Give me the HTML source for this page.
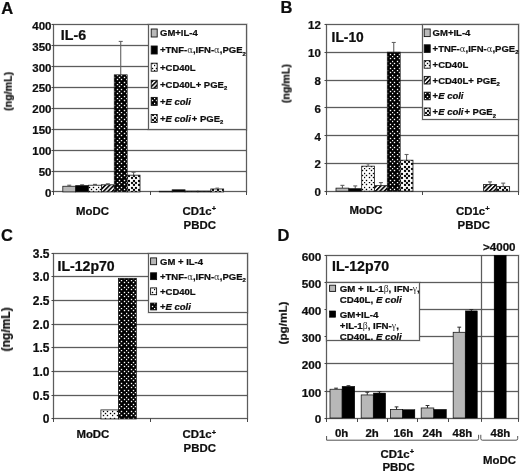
<!DOCTYPE html>
<html lang="en">
<head>
<meta charset="utf-8">
<title>Figure</title>
<style>
html,body{margin:0;padding:0;background:#fff;}
body{width:520px;height:472px;overflow:hidden;}
svg{display:block;}
svg text{font-family:"Liberation Sans",Arial,sans-serif;font-weight:bold;fill:#0c0c0c;stroke:#0c0c0c;stroke-width:0.22px;filter:url(#soft);}
</style>
</head>
<body>
<svg width="520" height="472" viewBox="0 0 520 472">
<defs>
<pattern id="pS" width="14" height="14" patternUnits="userSpaceOnUse"><rect width="14" height="14" fill="#fff"/><rect x="-0.18" y="-0.18" width="1.36" height="1.36" fill="#000"/><rect x="4.82" y="-0.18" width="1.36" height="1.36" fill="#000"/><rect x="8.82" y="-0.18" width="1.36" height="1.36" fill="#000"/><rect x="1.82" y="1.82" width="1.36" height="1.36" fill="#000"/><rect x="6.82" y="1.82" width="1.36" height="1.36" fill="#000"/><rect x="11.82" y="1.82" width="1.36" height="1.36" fill="#000"/><rect x="-0.18" y="4.82" width="1.36" height="1.36" fill="#000"/><rect x="4.82" y="4.82" width="1.36" height="1.36" fill="#000"/><rect x="8.82" y="4.82" width="1.36" height="1.36" fill="#000"/><rect x="1.82" y="6.82" width="1.36" height="1.36" fill="#000"/><rect x="6.82" y="6.82" width="1.36" height="1.36" fill="#000"/><rect x="11.82" y="6.82" width="1.36" height="1.36" fill="#000"/><rect x="-0.18" y="8.82" width="1.36" height="1.36" fill="#000"/><rect x="4.82" y="8.82" width="1.36" height="1.36" fill="#000"/><rect x="8.82" y="8.82" width="1.36" height="1.36" fill="#000"/><rect x="1.82" y="11.82" width="1.36" height="1.36" fill="#000"/><rect x="6.82" y="11.82" width="1.36" height="1.36" fill="#000"/><rect x="11.82" y="11.82" width="1.36" height="1.36" fill="#000"/></pattern>
<pattern id="pW" width="14" height="14" patternUnits="userSpaceOnUse"><rect width="14" height="14" fill="#000"/><rect x="-0.18" y="-0.18" width="1.36" height="1.36" fill="#fff"/><rect x="4.82" y="-0.18" width="1.36" height="1.36" fill="#fff"/><rect x="8.82" y="-0.18" width="1.36" height="1.36" fill="#fff"/><rect x="1.82" y="1.82" width="1.36" height="1.36" fill="#fff"/><rect x="6.82" y="1.82" width="1.36" height="1.36" fill="#fff"/><rect x="11.82" y="1.82" width="1.36" height="1.36" fill="#fff"/><rect x="-0.18" y="4.82" width="1.36" height="1.36" fill="#fff"/><rect x="4.82" y="4.82" width="1.36" height="1.36" fill="#fff"/><rect x="8.82" y="4.82" width="1.36" height="1.36" fill="#fff"/><rect x="1.82" y="6.82" width="1.36" height="1.36" fill="#fff"/><rect x="6.82" y="6.82" width="1.36" height="1.36" fill="#fff"/><rect x="11.82" y="6.82" width="1.36" height="1.36" fill="#fff"/><rect x="-0.18" y="8.82" width="1.36" height="1.36" fill="#fff"/><rect x="4.82" y="8.82" width="1.36" height="1.36" fill="#fff"/><rect x="8.82" y="8.82" width="1.36" height="1.36" fill="#fff"/><rect x="1.82" y="11.82" width="1.36" height="1.36" fill="#fff"/><rect x="6.82" y="11.82" width="1.36" height="1.36" fill="#fff"/><rect x="11.82" y="11.82" width="1.36" height="1.36" fill="#fff"/></pattern>
<pattern id="pB" width="14" height="14" patternUnits="userSpaceOnUse"><rect width="14" height="14" fill="#fff"/><circle cx="1" cy="1" r="1.16" fill="#000"/><circle cx="1" cy="15" r="1.16" fill="#000"/><circle cx="15" cy="1" r="1.16" fill="#000"/><circle cx="15" cy="15" r="1.16" fill="#000"/><circle cx="6" cy="1" r="1.16" fill="#000"/><circle cx="6" cy="15" r="1.16" fill="#000"/><circle cx="10" cy="1" r="1.16" fill="#000"/><circle cx="10" cy="15" r="1.16" fill="#000"/><circle cx="3" cy="3" r="1.16" fill="#000"/><circle cx="8" cy="3" r="1.16" fill="#000"/><circle cx="13" cy="3" r="1.16" fill="#000"/><circle cx="-1" cy="3" r="1.16" fill="#000"/><circle cx="1" cy="6" r="1.16" fill="#000"/><circle cx="15" cy="6" r="1.16" fill="#000"/><circle cx="6" cy="6" r="1.16" fill="#000"/><circle cx="10" cy="6" r="1.16" fill="#000"/><circle cx="3" cy="8" r="1.16" fill="#000"/><circle cx="8" cy="8" r="1.16" fill="#000"/><circle cx="13" cy="8" r="1.16" fill="#000"/><circle cx="-1" cy="8" r="1.16" fill="#000"/><circle cx="1" cy="10" r="1.16" fill="#000"/><circle cx="15" cy="10" r="1.16" fill="#000"/><circle cx="6" cy="10" r="1.16" fill="#000"/><circle cx="10" cy="10" r="1.16" fill="#000"/><circle cx="3" cy="13" r="1.16" fill="#000"/><circle cx="3" cy="-1" r="1.16" fill="#000"/><circle cx="8" cy="13" r="1.16" fill="#000"/><circle cx="8" cy="-1" r="1.16" fill="#000"/><circle cx="13" cy="13" r="1.16" fill="#000"/><circle cx="13" cy="-1" r="1.16" fill="#000"/><circle cx="-1" cy="13" r="1.16" fill="#000"/><circle cx="-1" cy="-1" r="1.16" fill="#000"/></pattern>
<pattern id="pH" width="3.1" height="3.1" patternUnits="userSpaceOnUse" patternTransform="rotate(-45)"><rect width="3.1" height="3.1" fill="#fff"/><rect width="3.1" height="1.7" fill="#0a0a0a"/></pattern>
<filter id="soft" x="-5%" y="-20%" width="110%" height="140%"><feGaussianBlur stdDeviation="0.3"/></filter>
</defs>
<rect width="520" height="472" fill="#fff"/>
<g>

<g id="panelA">
<text x="1.20" y="13.70" font-size="16.5" text-anchor="start">A</text>
<rect x="53.50" y="24.50" width="193.00" height="167.00" fill="#fff" stroke="rgba(0,0,0,0.13)" stroke-width="2.3"/>
<rect x="53.50" y="24.50" width="193.00" height="167.00" fill="none" stroke="#5c5c5c" stroke-width="1.0"/>
<line x1="51.50" y1="24.50" x2="53.50" y2="24.50" stroke="#333" stroke-width="0.9"/>
<text x="51.50" y="29.70" font-size="11.5" text-anchor="end">400</text>
<line x1="53.50" y1="45.50" x2="246.50" y2="45.50" stroke="rgba(0,0,0,0.13)" stroke-width="2.3"/>
<line x1="53.50" y1="45.50" x2="246.50" y2="45.50" stroke="#5c5c5c" stroke-width="1.0"/>
<line x1="51.50" y1="45.50" x2="53.50" y2="45.50" stroke="#333" stroke-width="0.9"/>
<text x="51.50" y="50.60" font-size="11.5" text-anchor="end">350</text>
<line x1="53.50" y1="66.50" x2="246.50" y2="66.50" stroke="rgba(0,0,0,0.13)" stroke-width="2.3"/>
<line x1="53.50" y1="66.50" x2="246.50" y2="66.50" stroke="#5c5c5c" stroke-width="1.0"/>
<line x1="51.50" y1="66.50" x2="53.50" y2="66.50" stroke="#333" stroke-width="0.9"/>
<text x="51.50" y="71.50" font-size="11.5" text-anchor="end">300</text>
<line x1="53.50" y1="87.50" x2="246.50" y2="87.50" stroke="rgba(0,0,0,0.13)" stroke-width="2.3"/>
<line x1="53.50" y1="87.50" x2="246.50" y2="87.50" stroke="#5c5c5c" stroke-width="1.0"/>
<line x1="51.50" y1="87.50" x2="53.50" y2="87.50" stroke="#333" stroke-width="0.9"/>
<text x="51.50" y="92.40" font-size="11.5" text-anchor="end">250</text>
<line x1="53.50" y1="108.50" x2="246.50" y2="108.50" stroke="rgba(0,0,0,0.13)" stroke-width="2.3"/>
<line x1="53.50" y1="108.50" x2="246.50" y2="108.50" stroke="#5c5c5c" stroke-width="1.0"/>
<line x1="51.50" y1="108.50" x2="53.50" y2="108.50" stroke="#333" stroke-width="0.9"/>
<text x="51.50" y="113.30" font-size="11.5" text-anchor="end">200</text>
<line x1="53.50" y1="129.50" x2="246.50" y2="129.50" stroke="rgba(0,0,0,0.13)" stroke-width="2.3"/>
<line x1="53.50" y1="129.50" x2="246.50" y2="129.50" stroke="#5c5c5c" stroke-width="1.0"/>
<line x1="51.50" y1="129.50" x2="53.50" y2="129.50" stroke="#333" stroke-width="0.9"/>
<text x="51.50" y="134.20" font-size="11.5" text-anchor="end">150</text>
<line x1="53.50" y1="150.50" x2="246.50" y2="150.50" stroke="rgba(0,0,0,0.13)" stroke-width="2.3"/>
<line x1="53.50" y1="150.50" x2="246.50" y2="150.50" stroke="#5c5c5c" stroke-width="1.0"/>
<line x1="51.50" y1="150.50" x2="53.50" y2="150.50" stroke="#333" stroke-width="0.9"/>
<text x="51.50" y="155.10" font-size="11.5" text-anchor="end">100</text>
<line x1="53.50" y1="171.50" x2="246.50" y2="171.50" stroke="rgba(0,0,0,0.13)" stroke-width="2.3"/>
<line x1="53.50" y1="171.50" x2="246.50" y2="171.50" stroke="#5c5c5c" stroke-width="1.0"/>
<line x1="51.50" y1="171.50" x2="53.50" y2="171.50" stroke="#333" stroke-width="0.9"/>
<text x="51.50" y="176.00" font-size="11.5" text-anchor="end">50</text>
<line x1="51.50" y1="191.50" x2="53.50" y2="191.50" stroke="#333" stroke-width="0.9"/>
<text x="51.50" y="196.90" font-size="11.5" text-anchor="end">0</text>
<line x1="53.50" y1="191.50" x2="53.50" y2="195.00" stroke="#333" stroke-width="0.9"/>
<line x1="150.50" y1="191.50" x2="150.50" y2="195.00" stroke="#333" stroke-width="0.9"/>
<line x1="246.50" y1="191.50" x2="246.50" y2="195.00" stroke="#333" stroke-width="0.9"/>
<line x1="69.23" y1="185.21" x2="69.23" y2="186.26" stroke="#626262" stroke-width="1.1"/>
<line x1="67.23" y1="185.21" x2="71.23" y2="185.21" stroke="#626262" stroke-width="1.1"/>
<rect x="62.80" y="186.26" width="12.87" height="5.64" fill="#b8b8b8" stroke="#1a1a1a" stroke-width="0.8"/>
<line x1="82.11" y1="184.79" x2="82.11" y2="185.63" stroke="#626262" stroke-width="1.1"/>
<line x1="80.11" y1="184.79" x2="84.11" y2="184.79" stroke="#626262" stroke-width="1.1"/>
<rect x="75.67" y="185.63" width="12.87" height="6.27" fill="#000" stroke="#1a1a1a" stroke-width="0.8"/>
<line x1="94.97" y1="184.38" x2="94.97" y2="185.21" stroke="#626262" stroke-width="1.1"/>
<line x1="92.97" y1="184.38" x2="96.97" y2="184.38" stroke="#626262" stroke-width="1.1"/>
<rect x="88.54" y="185.21" width="12.87" height="6.69" fill="url(#pS)" stroke="#1a1a1a" stroke-width="0.8"/>
<line x1="107.84" y1="183.75" x2="107.84" y2="184.79" stroke="#626262" stroke-width="1.1"/>
<line x1="105.84" y1="183.75" x2="109.84" y2="183.75" stroke="#626262" stroke-width="1.1"/>
<rect x="101.41" y="184.79" width="12.87" height="7.11" fill="url(#pH)" stroke="#1a1a1a" stroke-width="0.8"/>
<line x1="120.72" y1="41.42" x2="120.72" y2="74.86" stroke="#626262" stroke-width="1.1"/>
<line x1="118.72" y1="41.42" x2="122.72" y2="41.42" stroke="#626262" stroke-width="1.1"/>
<rect x="114.28" y="74.86" width="12.87" height="117.04" fill="url(#pW)" stroke="#1a1a1a" stroke-width="0.8"/>
<line x1="133.58" y1="172.25" x2="133.58" y2="175.18" stroke="#626262" stroke-width="1.1"/>
<line x1="131.58" y1="172.25" x2="135.58" y2="172.25" stroke="#626262" stroke-width="1.1"/>
<rect x="127.15" y="175.18" width="12.87" height="16.72" fill="url(#pB)" stroke="#1a1a1a" stroke-width="0.8"/>
<rect x="159.30" y="191.27" width="12.87" height="0.63" fill="#b8b8b8" stroke="#1a1a1a" stroke-width="0.8"/>
<rect x="172.17" y="189.81" width="12.87" height="2.09" fill="#000" stroke="#1a1a1a" stroke-width="0.8"/>
<rect x="185.04" y="191.06" width="12.87" height="0.84" fill="url(#pS)" stroke="#1a1a1a" stroke-width="0.8"/>
<rect x="197.91" y="191.06" width="12.87" height="0.84" fill="url(#pH)" stroke="#1a1a1a" stroke-width="0.8"/>
<rect x="210.78" y="188.97" width="12.87" height="2.93" fill="url(#pB)" stroke="#1a1a1a" stroke-width="0.8"/>
<line x1="217.22" y1="188.14" x2="217.22" y2="188.97" stroke="#626262" stroke-width="1.1"/>
<line x1="215.47" y1="188.14" x2="218.97" y2="188.14" stroke="#626262" stroke-width="1.1"/>
<text x="60.80" y="40.30" font-size="14.2" text-anchor="start">IL-6</text>
<text transform="translate(11.80,91.40) rotate(-90)" font-size="10.6" text-anchor="middle">(ng/mL)</text>
<text x="76.00" y="214.60" font-size="11.4" text-anchor="start">MoDC</text>
<text x="182.50" y="214.80" font-size="11.4" text-anchor="start">CD1c<tspan dy="-3.6" font-size="7.5">+</tspan></text>
<text x="183.60" y="228.60" font-size="11.4" text-anchor="start">PBDC</text>
<rect x="148.50" y="24.50" width="98.00" height="105.00" fill="#fff" stroke="rgba(0,0,0,0.13)" stroke-width="2.3"/>
<rect x="148.50" y="24.50" width="98.00" height="105.00" fill="none" stroke="#5c5c5c" stroke-width="1.0"/>
<rect x="151.20" y="29.00" width="6.00" height="8.00" fill="#b8b8b8" stroke="#111" stroke-width="0.9"/>
<text x="160.00" y="36.40" font-size="9.5" text-anchor="start">GM+IL-4</text>
<rect x="151.20" y="46.00" width="6.00" height="8.00" fill="#000" stroke="#111" stroke-width="0.9"/>
<text x="160.00" y="53.40" font-size="9.5" text-anchor="start">+TNF-<tspan font-family="'DejaVu Serif', 'Liberation Serif', serif" font-weight="normal" stroke="none" fill="#333" font-size="0.9em">α</tspan>,IFN-<tspan font-family="'DejaVu Serif', 'Liberation Serif', serif" font-weight="normal" stroke="none" fill="#333" font-size="0.9em">α</tspan>,PGE<tspan dy="2.4" font-size="0.62em">2</tspan></text>
<rect x="151.20" y="63.20" width="6.00" height="8.00" fill="url(#pS)" stroke="#111" stroke-width="0.9"/>
<text x="160.00" y="70.60" font-size="9.5" text-anchor="start">+CD40L</text>
<rect x="151.20" y="80.30" width="6.00" height="8.00" fill="url(#pH)" stroke="#111" stroke-width="0.9"/>
<text x="160.00" y="87.70" font-size="9.5" text-anchor="start">+CD40L+ PGE<tspan dy="2.4" font-size="0.62em">2</tspan></text>
<rect x="151.20" y="97.40" width="6.00" height="8.00" fill="url(#pW)" stroke="#111" stroke-width="0.9"/>
<text x="160.00" y="104.80" font-size="9.5" text-anchor="start">+<tspan font-style="italic">E coli</tspan></text>
<rect x="151.20" y="114.50" width="6.00" height="8.00" fill="url(#pB)" stroke="#111" stroke-width="0.9"/>
<text x="160.00" y="121.90" font-size="9.5" text-anchor="start">+<tspan font-style="italic">E coli</tspan><tspan dx="0.9">+ </tspan>PGE<tspan dy="2.4" font-size="0.62em">2</tspan></text>
</g>
<g id="panelB">
<text x="280.60" y="13.20" font-size="16.5" text-anchor="start">B</text>
<rect x="326.50" y="24.50" width="192.00" height="167.00" fill="#fff" stroke="rgba(0,0,0,0.13)" stroke-width="2.3"/>
<rect x="326.50" y="24.50" width="192.00" height="167.00" fill="none" stroke="#5c5c5c" stroke-width="1.0"/>
<line x1="324.50" y1="24.50" x2="326.50" y2="24.50" stroke="#333" stroke-width="0.9"/>
<text x="320.90" y="29.40" font-size="11.5" text-anchor="end">12</text>
<line x1="326.50" y1="52.50" x2="518.50" y2="52.50" stroke="rgba(0,0,0,0.13)" stroke-width="2.3"/>
<line x1="326.50" y1="52.50" x2="518.50" y2="52.50" stroke="#5c5c5c" stroke-width="1.0"/>
<line x1="324.50" y1="52.50" x2="326.50" y2="52.50" stroke="#333" stroke-width="0.9"/>
<text x="320.90" y="57.20" font-size="11.5" text-anchor="end">10</text>
<line x1="326.50" y1="80.50" x2="518.50" y2="80.50" stroke="rgba(0,0,0,0.13)" stroke-width="2.3"/>
<line x1="326.50" y1="80.50" x2="518.50" y2="80.50" stroke="#5c5c5c" stroke-width="1.0"/>
<line x1="324.50" y1="80.50" x2="326.50" y2="80.50" stroke="#333" stroke-width="0.9"/>
<text x="320.90" y="85.00" font-size="11.5" text-anchor="end">8</text>
<line x1="326.50" y1="107.50" x2="518.50" y2="107.50" stroke="rgba(0,0,0,0.13)" stroke-width="2.3"/>
<line x1="326.50" y1="107.50" x2="518.50" y2="107.50" stroke="#5c5c5c" stroke-width="1.0"/>
<line x1="324.50" y1="107.50" x2="326.50" y2="107.50" stroke="#333" stroke-width="0.9"/>
<text x="320.90" y="112.80" font-size="11.5" text-anchor="end">6</text>
<line x1="326.50" y1="135.50" x2="518.50" y2="135.50" stroke="rgba(0,0,0,0.13)" stroke-width="2.3"/>
<line x1="326.50" y1="135.50" x2="518.50" y2="135.50" stroke="#5c5c5c" stroke-width="1.0"/>
<line x1="324.50" y1="135.50" x2="326.50" y2="135.50" stroke="#333" stroke-width="0.9"/>
<text x="320.90" y="140.60" font-size="11.5" text-anchor="end">4</text>
<line x1="326.50" y1="163.50" x2="518.50" y2="163.50" stroke="rgba(0,0,0,0.13)" stroke-width="2.3"/>
<line x1="326.50" y1="163.50" x2="518.50" y2="163.50" stroke="#5c5c5c" stroke-width="1.0"/>
<line x1="324.50" y1="163.50" x2="326.50" y2="163.50" stroke="#333" stroke-width="0.9"/>
<text x="320.90" y="168.40" font-size="11.5" text-anchor="end">2</text>
<line x1="324.50" y1="191.50" x2="326.50" y2="191.50" stroke="#333" stroke-width="0.9"/>
<text x="320.90" y="196.20" font-size="11.5" text-anchor="end">0</text>
<line x1="326.50" y1="191.50" x2="326.50" y2="195.00" stroke="#333" stroke-width="0.9"/>
<line x1="422.50" y1="191.50" x2="422.50" y2="195.00" stroke="#333" stroke-width="0.9"/>
<line x1="518.50" y1="191.50" x2="518.50" y2="195.00" stroke="#333" stroke-width="0.9"/>
<line x1="342.42" y1="185.36" x2="342.42" y2="188.14" stroke="#626262" stroke-width="1.1"/>
<line x1="340.42" y1="185.36" x2="344.42" y2="185.36" stroke="#626262" stroke-width="1.1"/>
<rect x="336.00" y="188.14" width="12.83" height="3.06" fill="#b8b8b8" stroke="#1a1a1a" stroke-width="0.8"/>
<line x1="355.25" y1="185.92" x2="355.25" y2="188.70" stroke="#626262" stroke-width="1.1"/>
<line x1="353.25" y1="185.92" x2="357.25" y2="185.92" stroke="#626262" stroke-width="1.1"/>
<rect x="348.83" y="188.70" width="12.83" height="2.50" fill="#000" stroke="#1a1a1a" stroke-width="0.8"/>
<line x1="368.08" y1="163.68" x2="368.08" y2="166.18" stroke="#626262" stroke-width="1.1"/>
<line x1="366.08" y1="163.68" x2="370.08" y2="163.68" stroke="#626262" stroke-width="1.1"/>
<rect x="361.66" y="166.18" width="12.83" height="25.02" fill="url(#pS)" stroke="#1a1a1a" stroke-width="0.8"/>
<line x1="380.91" y1="182.58" x2="380.91" y2="185.64" stroke="#626262" stroke-width="1.1"/>
<line x1="378.91" y1="182.58" x2="382.91" y2="182.58" stroke="#626262" stroke-width="1.1"/>
<rect x="374.49" y="185.64" width="12.83" height="5.56" fill="url(#pH)" stroke="#1a1a1a" stroke-width="0.8"/>
<line x1="393.74" y1="42.47" x2="393.74" y2="52.20" stroke="#626262" stroke-width="1.1"/>
<line x1="391.74" y1="42.47" x2="395.74" y2="42.47" stroke="#626262" stroke-width="1.1"/>
<rect x="387.32" y="52.20" width="12.83" height="139.00" fill="url(#pW)" stroke="#1a1a1a" stroke-width="0.8"/>
<line x1="406.56" y1="154.50" x2="406.56" y2="160.20" stroke="#626262" stroke-width="1.1"/>
<line x1="404.56" y1="154.50" x2="408.56" y2="154.50" stroke="#626262" stroke-width="1.1"/>
<rect x="400.15" y="160.20" width="12.83" height="31.00" fill="url(#pB)" stroke="#1a1a1a" stroke-width="0.8"/>
<line x1="490.02" y1="181.89" x2="490.02" y2="184.53" stroke="#626262" stroke-width="1.1"/>
<line x1="488.02" y1="181.89" x2="492.02" y2="181.89" stroke="#626262" stroke-width="1.1"/>
<rect x="483.60" y="184.53" width="12.83" height="6.67" fill="url(#pH)" stroke="#1a1a1a" stroke-width="0.8"/>
<line x1="503.22" y1="183.14" x2="503.22" y2="186.61" stroke="#626262" stroke-width="1.1"/>
<line x1="501.22" y1="183.14" x2="505.22" y2="183.14" stroke="#626262" stroke-width="1.1"/>
<rect x="496.80" y="186.61" width="12.83" height="4.59" fill="url(#pB)" stroke="#1a1a1a" stroke-width="0.8"/>
<text x="331.60" y="41.90" font-size="13.8" text-anchor="start">IL-10</text>
<text transform="translate(289.60,83.60) rotate(-90)" font-size="10.6" text-anchor="middle">(ng/mL)</text>
<text x="349.60" y="214.40" font-size="11.4" text-anchor="start">MoDC</text>
<text x="456.00" y="214.90" font-size="11.4" text-anchor="start">CD1c<tspan dy="-3.6" font-size="7.5">+</tspan></text>
<text x="457.60" y="228.80" font-size="11.4" text-anchor="start">PBDC</text>
<rect x="422.50" y="24.50" width="96.00" height="95.00" fill="#fff" stroke="rgba(0,0,0,0.13)" stroke-width="2.3"/>
<rect x="422.50" y="24.50" width="96.00" height="95.00" fill="none" stroke="#5c5c5c" stroke-width="1.0"/>
<rect x="424.20" y="29.00" width="6.00" height="7.60" fill="#b8b8b8" stroke="#111" stroke-width="0.9"/>
<text x="432.60" y="36.20" font-size="9.5" text-anchor="start">GM+IL-4</text>
<rect x="424.20" y="44.80" width="6.00" height="7.60" fill="#000" stroke="#111" stroke-width="0.9"/>
<text x="432.60" y="52.00" font-size="9.5" text-anchor="start">+TNF-<tspan font-family="'DejaVu Serif', 'Liberation Serif', serif" font-weight="normal" stroke="none" fill="#333" font-size="0.9em">α</tspan>,IFN-<tspan font-family="'DejaVu Serif', 'Liberation Serif', serif" font-weight="normal" stroke="none" fill="#333" font-size="0.9em">α</tspan>,PGE<tspan dy="2.4" font-size="0.62em">2</tspan></text>
<rect x="424.20" y="60.60" width="6.00" height="7.60" fill="url(#pS)" stroke="#111" stroke-width="0.9"/>
<text x="432.60" y="67.80" font-size="9.5" text-anchor="start">+CD40L</text>
<rect x="424.20" y="76.40" width="6.00" height="7.60" fill="url(#pH)" stroke="#111" stroke-width="0.9"/>
<text x="432.60" y="83.60" font-size="9.5" text-anchor="start">+CD40L+ PGE<tspan dy="2.4" font-size="0.62em">2</tspan></text>
<rect x="424.20" y="92.20" width="6.00" height="7.60" fill="url(#pW)" stroke="#111" stroke-width="0.9"/>
<text x="432.60" y="99.40" font-size="9.5" text-anchor="start">+<tspan font-style="italic">E coli</tspan></text>
<rect x="424.20" y="108.00" width="6.00" height="7.60" fill="url(#pB)" stroke="#111" stroke-width="0.9"/>
<text x="432.60" y="115.20" font-size="9.5" text-anchor="start">+<tspan font-style="italic">E coli</tspan><tspan dx="0.9">+ </tspan>PGE<tspan dy="2.4" font-size="0.62em">2</tspan></text>
</g>
<g id="panelC">
<text x="1.00" y="240.90" font-size="16.5" text-anchor="start">C</text>
<rect x="53.50" y="253.50" width="194.00" height="165.00" fill="#fff" stroke="rgba(0,0,0,0.13)" stroke-width="2.3"/>
<rect x="53.50" y="253.50" width="194.00" height="165.00" fill="none" stroke="#5c5c5c" stroke-width="1.0"/>
<line x1="51.50" y1="253.50" x2="53.50" y2="253.50" stroke="#333" stroke-width="0.9"/>
<text x="49.50" y="257.60" font-size="12" text-anchor="end">3.5</text>
<line x1="53.50" y1="276.50" x2="247.50" y2="276.50" stroke="rgba(0,0,0,0.13)" stroke-width="2.3"/>
<line x1="53.50" y1="276.50" x2="247.50" y2="276.50" stroke="#5c5c5c" stroke-width="1.0"/>
<line x1="51.50" y1="276.50" x2="53.50" y2="276.50" stroke="#333" stroke-width="0.9"/>
<text x="49.50" y="281.26" font-size="12" text-anchor="end">3.0</text>
<line x1="53.50" y1="300.50" x2="247.50" y2="300.50" stroke="rgba(0,0,0,0.13)" stroke-width="2.3"/>
<line x1="53.50" y1="300.50" x2="247.50" y2="300.50" stroke="#5c5c5c" stroke-width="1.0"/>
<line x1="51.50" y1="300.50" x2="53.50" y2="300.50" stroke="#333" stroke-width="0.9"/>
<text x="49.50" y="304.91" font-size="12" text-anchor="end">2.5</text>
<line x1="53.50" y1="324.50" x2="247.50" y2="324.50" stroke="rgba(0,0,0,0.13)" stroke-width="2.3"/>
<line x1="53.50" y1="324.50" x2="247.50" y2="324.50" stroke="#5c5c5c" stroke-width="1.0"/>
<line x1="51.50" y1="324.50" x2="53.50" y2="324.50" stroke="#333" stroke-width="0.9"/>
<text x="49.50" y="328.57" font-size="12" text-anchor="end">2.0</text>
<line x1="53.50" y1="347.50" x2="247.50" y2="347.50" stroke="rgba(0,0,0,0.13)" stroke-width="2.3"/>
<line x1="53.50" y1="347.50" x2="247.50" y2="347.50" stroke="#5c5c5c" stroke-width="1.0"/>
<line x1="51.50" y1="347.50" x2="53.50" y2="347.50" stroke="#333" stroke-width="0.9"/>
<text x="49.50" y="352.23" font-size="12" text-anchor="end">1.5</text>
<line x1="53.50" y1="371.50" x2="247.50" y2="371.50" stroke="rgba(0,0,0,0.13)" stroke-width="2.3"/>
<line x1="53.50" y1="371.50" x2="247.50" y2="371.50" stroke="#5c5c5c" stroke-width="1.0"/>
<line x1="51.50" y1="371.50" x2="53.50" y2="371.50" stroke="#333" stroke-width="0.9"/>
<text x="49.50" y="375.89" font-size="12" text-anchor="end">1.0</text>
<line x1="53.50" y1="395.50" x2="247.50" y2="395.50" stroke="rgba(0,0,0,0.13)" stroke-width="2.3"/>
<line x1="53.50" y1="395.50" x2="247.50" y2="395.50" stroke="#5c5c5c" stroke-width="1.0"/>
<line x1="51.50" y1="395.50" x2="53.50" y2="395.50" stroke="#333" stroke-width="0.9"/>
<text x="49.50" y="399.54" font-size="12" text-anchor="end">0.5</text>
<line x1="51.50" y1="418.50" x2="53.50" y2="418.50" stroke="#333" stroke-width="0.9"/>
<text x="49.50" y="423.20" font-size="12" text-anchor="end">0</text>
<line x1="53.50" y1="418.50" x2="53.50" y2="422.00" stroke="#333" stroke-width="0.9"/>
<line x1="150.50" y1="418.50" x2="150.50" y2="422.00" stroke="#333" stroke-width="0.9"/>
<line x1="247.50" y1="418.50" x2="247.50" y2="422.00" stroke="#333" stroke-width="0.9"/>
<rect x="100.90" y="409.91" width="17.50" height="8.99" fill="url(#pS)" stroke="#1a1a1a" stroke-width="0.8"/>
<rect x="118.40" y="278.38" width="17.90" height="140.52" fill="url(#pW)" stroke="#1a1a1a" stroke-width="0.8"/>
<text x="57.50" y="270.70" font-size="14.1" text-anchor="start">IL-12p70</text>
<text transform="translate(10.00,329.40) rotate(-90)" font-size="12" text-anchor="middle">(ng/mL)</text>
<text x="76.40" y="438.30" font-size="11.4" text-anchor="start">MoDC</text>
<text x="182.50" y="438.30" font-size="11.4" text-anchor="start">CD1c<tspan dy="-3.6" font-size="7.5">+</tspan></text>
<text x="183.60" y="452.30" font-size="11.4" text-anchor="start">PBDC</text>
<rect x="148.50" y="253.50" width="99.00" height="59.00" fill="#fff" stroke="rgba(0,0,0,0.13)" stroke-width="2.3"/>
<rect x="148.50" y="253.50" width="99.00" height="59.00" fill="none" stroke="#5c5c5c" stroke-width="1.0"/>
<rect x="150.60" y="257.90" width="6.00" height="6.80" fill="#b8b8b8" stroke="#111" stroke-width="0.9"/>
<text x="160.00" y="264.70" font-size="9.5" text-anchor="start">GM + IL-4</text>
<rect x="150.60" y="272.80" width="6.00" height="6.80" fill="#000" stroke="#111" stroke-width="0.9"/>
<text x="160.00" y="279.60" font-size="9.5" text-anchor="start">+TNF-<tspan font-family="'DejaVu Serif', 'Liberation Serif', serif" font-weight="normal" stroke="none" fill="#333" font-size="0.9em">α</tspan>,IFN-<tspan font-family="'DejaVu Serif', 'Liberation Serif', serif" font-weight="normal" stroke="none" fill="#333" font-size="0.9em">α</tspan>,PGE<tspan dy="2.4" font-size="0.62em">2</tspan></text>
<rect x="150.60" y="287.90" width="6.00" height="6.80" fill="url(#pS)" stroke="#111" stroke-width="0.9"/>
<text x="160.00" y="294.70" font-size="9.5" text-anchor="start">+CD40L</text>
<rect x="150.60" y="303.10" width="6.00" height="6.80" fill="url(#pW)" stroke="#111" stroke-width="0.9"/>
<text x="160.00" y="309.90" font-size="9.5" text-anchor="start">+<tspan font-style="italic">E coli</tspan></text>
</g>
<g id="panelD">
<text x="277.60" y="241.30" font-size="16.5" text-anchor="start">D</text>
<rect x="326.50" y="255.50" width="192.00" height="163.00" fill="#fff" stroke="rgba(0,0,0,0.13)" stroke-width="2.3"/>
<rect x="326.50" y="255.50" width="192.00" height="163.00" fill="none" stroke="#5c5c5c" stroke-width="1.0"/>
<line x1="324.50" y1="255.50" x2="326.50" y2="255.50" stroke="#333" stroke-width="0.9"/>
<text x="321.40" y="260.70" font-size="11.8" text-anchor="end">600</text>
<line x1="326.50" y1="282.50" x2="518.50" y2="282.50" stroke="rgba(0,0,0,0.13)" stroke-width="2.3"/>
<line x1="326.50" y1="282.50" x2="518.50" y2="282.50" stroke="#5c5c5c" stroke-width="1.0"/>
<line x1="324.50" y1="282.50" x2="326.50" y2="282.50" stroke="#333" stroke-width="0.9"/>
<text x="321.40" y="287.82" font-size="11.8" text-anchor="end">500</text>
<line x1="326.50" y1="309.50" x2="518.50" y2="309.50" stroke="rgba(0,0,0,0.13)" stroke-width="2.3"/>
<line x1="326.50" y1="309.50" x2="518.50" y2="309.50" stroke="#5c5c5c" stroke-width="1.0"/>
<line x1="324.50" y1="309.50" x2="326.50" y2="309.50" stroke="#333" stroke-width="0.9"/>
<text x="321.40" y="314.93" font-size="11.8" text-anchor="end">400</text>
<line x1="326.50" y1="336.50" x2="518.50" y2="336.50" stroke="rgba(0,0,0,0.13)" stroke-width="2.3"/>
<line x1="326.50" y1="336.50" x2="518.50" y2="336.50" stroke="#5c5c5c" stroke-width="1.0"/>
<line x1="324.50" y1="336.50" x2="326.50" y2="336.50" stroke="#333" stroke-width="0.9"/>
<text x="321.40" y="342.05" font-size="11.8" text-anchor="end">300</text>
<line x1="326.50" y1="363.50" x2="518.50" y2="363.50" stroke="rgba(0,0,0,0.13)" stroke-width="2.3"/>
<line x1="326.50" y1="363.50" x2="518.50" y2="363.50" stroke="#5c5c5c" stroke-width="1.0"/>
<line x1="324.50" y1="363.50" x2="326.50" y2="363.50" stroke="#333" stroke-width="0.9"/>
<text x="321.40" y="369.17" font-size="11.8" text-anchor="end">200</text>
<line x1="326.50" y1="391.50" x2="518.50" y2="391.50" stroke="rgba(0,0,0,0.13)" stroke-width="2.3"/>
<line x1="326.50" y1="391.50" x2="518.50" y2="391.50" stroke="#5c5c5c" stroke-width="1.0"/>
<line x1="324.50" y1="391.50" x2="326.50" y2="391.50" stroke="#333" stroke-width="0.9"/>
<text x="321.40" y="397.00" font-size="11.8" text-anchor="end">100</text>
<line x1="324.50" y1="418.50" x2="326.50" y2="418.50" stroke="#333" stroke-width="0.9"/>
<text x="321.40" y="423.40" font-size="11.8" text-anchor="end">0</text>
<line x1="481.50" y1="255.50" x2="481.50" y2="418.50" stroke="rgba(0,0,0,0.13)" stroke-width="2.3"/>
<line x1="481.50" y1="255.50" x2="481.50" y2="418.50" stroke="#5c5c5c" stroke-width="1.0"/>
<line x1="481.50" y1="418.50" x2="481.50" y2="421.90" stroke="#333" stroke-width="0.9"/>
<line x1="518.50" y1="418.50" x2="518.50" y2="421.90" stroke="#333" stroke-width="0.9"/>
<line x1="326.50" y1="418.50" x2="326.50" y2="422.00" stroke="#333" stroke-width="0.9"/>
<line x1="357.50" y1="418.50" x2="357.50" y2="422.00" stroke="#333" stroke-width="0.9"/>
<line x1="387.50" y1="418.50" x2="387.50" y2="422.00" stroke="#333" stroke-width="0.9"/>
<line x1="417.50" y1="418.50" x2="417.50" y2="422.00" stroke="#333" stroke-width="0.9"/>
<line x1="448.50" y1="418.50" x2="448.50" y2="422.00" stroke="#333" stroke-width="0.9"/>
<line x1="336.05" y1="388.17" x2="336.05" y2="389.26" stroke="#2a2a2a" stroke-width="1.0"/>
<line x1="334.15" y1="388.17" x2="337.95" y2="388.17" stroke="#2a2a2a" stroke-width="1.0"/>
<line x1="348.45" y1="385.73" x2="348.45" y2="386.27" stroke="#2a2a2a" stroke-width="1.0"/>
<line x1="346.55" y1="385.73" x2="350.35" y2="385.73" stroke="#2a2a2a" stroke-width="1.0"/>
<rect x="330.00" y="389.26" width="12.10" height="28.74" fill="#b8b8b8" stroke="#1a1a1a" stroke-width="0.8"/>
<rect x="342.10" y="386.27" width="12.70" height="31.73" fill="#000" stroke="#000" stroke-width="0.4"/>
<line x1="367.25" y1="392.24" x2="367.25" y2="394.95" stroke="#2a2a2a" stroke-width="1.0"/>
<line x1="365.35" y1="392.24" x2="369.15" y2="392.24" stroke="#2a2a2a" stroke-width="1.0"/>
<line x1="379.50" y1="391.70" x2="379.50" y2="393.05" stroke="#2a2a2a" stroke-width="1.0"/>
<line x1="377.60" y1="391.70" x2="381.40" y2="391.70" stroke="#2a2a2a" stroke-width="1.0"/>
<rect x="361.20" y="394.95" width="12.10" height="23.05" fill="#b8b8b8" stroke="#1a1a1a" stroke-width="0.8"/>
<rect x="373.30" y="393.05" width="12.40" height="24.95" fill="#000" stroke="#000" stroke-width="0.4"/>
<line x1="396.55" y1="406.88" x2="396.55" y2="409.59" stroke="#2a2a2a" stroke-width="1.0"/>
<line x1="394.65" y1="406.88" x2="398.45" y2="406.88" stroke="#2a2a2a" stroke-width="1.0"/>
<rect x="390.50" y="409.59" width="12.10" height="8.41" fill="#b8b8b8" stroke="#1a1a1a" stroke-width="0.8"/>
<rect x="402.60" y="409.59" width="12.30" height="8.41" fill="#000" stroke="#000" stroke-width="0.4"/>
<line x1="427.50" y1="405.53" x2="427.50" y2="407.97" stroke="#2a2a2a" stroke-width="1.0"/>
<line x1="425.60" y1="405.53" x2="429.40" y2="405.53" stroke="#2a2a2a" stroke-width="1.0"/>
<rect x="421.20" y="407.97" width="12.60" height="10.03" fill="#b8b8b8" stroke="#1a1a1a" stroke-width="0.8"/>
<rect x="433.80" y="409.32" width="12.70" height="8.68" fill="#000" stroke="#000" stroke-width="0.4"/>
<line x1="459.25" y1="327.16" x2="459.25" y2="332.31" stroke="#2a2a2a" stroke-width="1.0"/>
<line x1="457.35" y1="327.16" x2="461.15" y2="327.16" stroke="#2a2a2a" stroke-width="1.0"/>
<line x1="471.35" y1="309.53" x2="471.35" y2="310.89" stroke="#2a2a2a" stroke-width="1.0"/>
<line x1="469.45" y1="309.53" x2="473.25" y2="309.53" stroke="#2a2a2a" stroke-width="1.0"/>
<rect x="453.20" y="332.31" width="12.10" height="85.69" fill="#b8b8b8" stroke="#1a1a1a" stroke-width="0.8"/>
<rect x="465.30" y="310.89" width="12.10" height="107.11" fill="#000" stroke="#000" stroke-width="0.4"/>
<rect x="494.10" y="255.30" width="12.10" height="162.70" fill="#000" stroke="#000" stroke-width="0.4"/>
<text x="483.00" y="250.90" font-size="11.6" text-anchor="start">&gt;4000</text>
<text x="332.00" y="271.40" font-size="14.1" text-anchor="start">IL-12p70</text>
<text transform="translate(286.80,323.00) rotate(-90)" font-size="11.7" text-anchor="middle">(pg/mL)</text>
<text x="335.00" y="436.60" font-size="11.4" text-anchor="start">0h</text>
<text x="365.50" y="436.60" font-size="11.4" text-anchor="start">2h</text>
<text x="393.60" y="436.60" font-size="11.4" text-anchor="start">16h</text>
<text x="422.60" y="436.60" font-size="11.4" text-anchor="start">24h</text>
<text x="452.60" y="436.60" font-size="11.4" text-anchor="start">48h</text>
<text x="490.60" y="436.60" font-size="11.4" text-anchor="start">48h</text>
<path d="M326.6 436 V440.2 H477 Q478.6 440.2 478.6 438.6 V434.8" fill="none" stroke="#333" stroke-width="0.85"/>
<path d="M480.8 434.8 V438.6 Q480.8 440.2 482.4 440.2 H516.1 Q517.7 440.2 517.7 438.6 V436" fill="none" stroke="#333" stroke-width="0.85"/>
<text x="380.50" y="457.60" font-size="11.4" text-anchor="start">CD1c<tspan dy="-3.6" font-size="7.5">+</tspan></text>
<text x="382.40" y="470.60" font-size="11.4" text-anchor="start">PBDC</text>
<text x="483.00" y="463.60" font-size="11.4" text-anchor="start">MoDC</text>
<rect x="326.50" y="282.50" width="93.00" height="58.00" fill="#fff" stroke="rgba(0,0,0,0.13)" stroke-width="2.3"/>
<rect x="326.50" y="282.50" width="93.00" height="58.00" fill="none" stroke="#5c5c5c" stroke-width="1.0"/>
<rect x="329.60" y="285.20" width="6.00" height="6.20" fill="#b8b8b8" stroke="#111" stroke-width="0.9"/>
<rect x="329.60" y="311.00" width="6.00" height="6.20" fill="#000" stroke="#000" stroke-width="0.7"/>
<clipPath id="cD"><rect x="327" y="282.5" width="92" height="57.4"/></clipPath><g clip-path="url(#cD)">
<text x="339.80" y="292.00" font-size="9.7" text-anchor="start">GM + IL-1<tspan font-family="'Liberation Serif', serif" font-weight="normal" stroke="none" fill="#333" font-size="1.0em">β</tspan>, IFN-<tspan font-family="'Liberation Serif', serif" font-weight="normal" stroke="none" fill="#333" font-size="1.0em">γ</tspan>,</text>
<text x="339.80" y="303.30" font-size="9.7" text-anchor="start">CD40L, <tspan font-style="italic">E coli</tspan></text>
<text x="339.80" y="317.80" font-size="9.7" text-anchor="start">GM+IL-4</text>
<text x="339.80" y="328.80" font-size="9.7" text-anchor="start">+IL-1<tspan font-family="'Liberation Serif', serif" font-weight="normal" stroke="none" fill="#333" font-size="1.0em">β</tspan>, IFN-<tspan font-family="'Liberation Serif', serif" font-weight="normal" stroke="none" fill="#333" font-size="1.0em">γ</tspan>,</text>
<text x="339.80" y="339.60" font-size="9.7" text-anchor="start">CD40L, <tspan font-style="italic">E coli</tspan></text>
</g>
</g>
</g>
</svg>
</body>
</html>
